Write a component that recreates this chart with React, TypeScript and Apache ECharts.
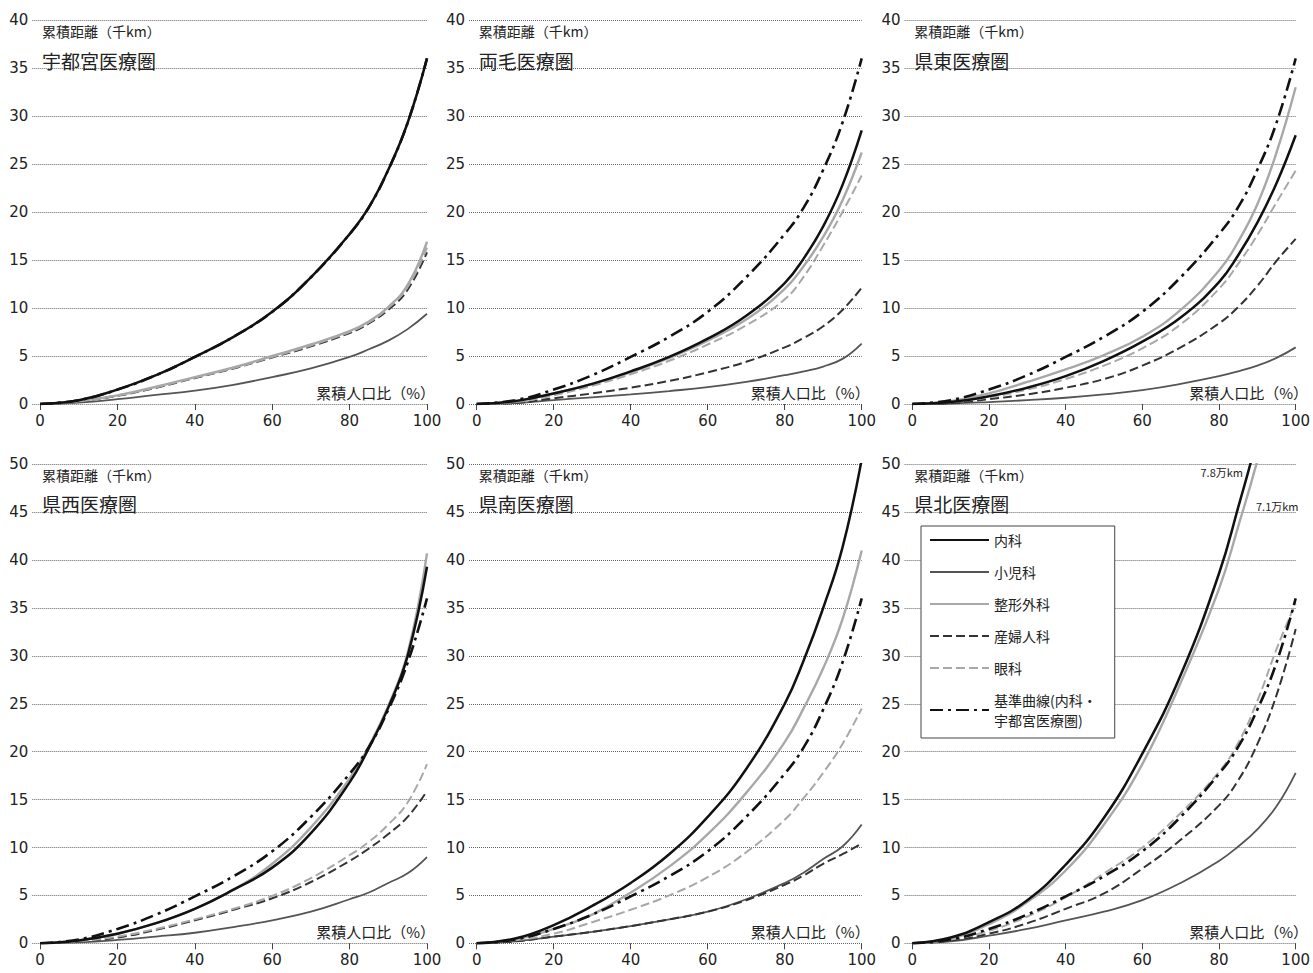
import React, { useEffect, useRef } from "react";
import * as echarts from "echarts";

// cumulative population share (%)
const POP = [0, 10, 20, 30, 40, 50, 60, 70, 80, 85, 90, 95, 100];
const X_TICKS = [0, 20, 40, 60, 80, 100];
const Y_MAX = [40, 50];

const REGIONS = ["宇都宮医療圏", "両毛医療圏", "県東医療圏", "県西医療圏", "県南医療圏", "県北医療圏"];
const DEPTS = ["内科", "小児科", "整形外科", "産婦人科", "眼科", "基準曲線(内科・宇都宮医療圏)"];

// reference curve (内科・宇都宮医療圏), thousand km
const BASELINE = [0, 0.4, 1.5, 3.0, 4.9, 7.0, 9.6, 13.2, 17.7, 20.5, 24.4, 29.3, 36];

// 宇都宮医療圏
const U_NAIKA = [0, 0.4, 1.5, 3.0, 4.9, 7.0, 9.6, 13.2, 17.7, 20.5, 24.4, 29.3, 36];
const U_SHONI = [0, 0.15, 0.5, 0.95, 1.4, 2.0, 2.8, 3.7, 4.9, 5.7, 6.6, 7.8, 9.4];
const U_SEIKEI = [0, 0.3, 0.9, 1.8, 2.8, 3.8, 5.0, 6.2, 7.6, 8.6, 10.1, 12.4, 16.9];
const U_SANFU = [0, 0.3, 0.85, 1.7, 2.7, 3.7, 4.85, 6.0, 7.4, 8.4, 9.8, 11.9, 15.8];
const U_GANKA = [0, 0.3, 0.9, 1.75, 2.75, 3.75, 4.9, 6.1, 7.5, 8.5, 10.0, 12.2, 16.3];

// 両毛医療圏
const R_NAIKA = [0, 0.3, 1.1, 2.1, 3.4, 4.9, 6.8, 9.2, 12.6, 15.2, 18.5, 22.8, 28.5];
const R_SHONI = [0, 0.1, 0.4, 0.7, 1.0, 1.35, 1.75, 2.3, 3.0, 3.4, 3.9, 4.7, 6.3];
const R_SEIKEI = [0, 0.3, 1.1, 2.1, 3.3, 4.8, 6.6, 8.8, 12.0, 14.4, 17.4, 21.2, 26.2];
const R_SANFU = [0, 0.1, 0.6, 1.1, 1.7, 2.4, 3.3, 4.4, 5.9, 6.9, 8.1, 9.8, 12.1];
const R_GANKA = [0, 0.2, 0.9, 1.9, 3.1, 4.5, 6.2, 8.2, 10.9, 13.3, 16.5, 20.0, 23.8];

// 県東医療圏
const E_NAIKA = [0, 0.2, 0.8, 1.7, 2.9, 4.5, 6.5, 9.0, 12.7, 15.5, 18.9, 23.0, 28];
const E_SHONI = [0, 0.05, 0.2, 0.4, 0.65, 1.0, 1.45, 2.1, 2.9, 3.4, 4.0, 4.8, 5.9];
const E_SEIKEI = [0, 0.3, 1.1, 2.3, 3.6, 5.1, 7.0, 9.8, 13.9, 16.9, 20.8, 26.2, 33];
const E_SANFU = [0, 0.1, 0.5, 1.0, 1.7, 2.6, 4.0, 5.9, 8.4, 10.1, 12.3, 14.9, 17.2];
const E_GANKA = [0, 0.2, 0.7, 1.5, 2.6, 4.0, 5.8, 8.3, 12.0, 14.6, 17.6, 21.0, 24.3];

// 県西医療圏
const W_NAIKA = [0, 0.3, 1.0, 2.1, 3.6, 5.6, 7.9, 11.5, 16.8, 20.4, 24.6, 30.0, 39.3];
const W_SHONI = [0, 0.1, 0.35, 0.7, 1.1, 1.7, 2.4, 3.3, 4.6, 5.3, 6.3, 7.3, 9.0];
const W_SEIKEI = [0, 0.3, 1.0, 2.1, 3.6, 5.6, 8.3, 12.1, 17.2, 20.6, 24.8, 30.3, 40.7];
const W_SANFU = [0, 0.2, 0.6, 1.4, 2.4, 3.5, 4.7, 6.4, 8.6, 9.9, 11.4, 13.2, 15.9];
const W_GANKA = [0, 0.2, 0.7, 1.5, 2.5, 3.6, 4.95, 6.8, 9.2, 10.6, 12.4, 14.7, 18.7];

// 県南医療圏
const S_NAIKA = [0, 0.5, 1.9, 3.9, 6.3, 9.3, 13.2, 18.2, 25.0, 29.6, 35.0, 41.3, 50.5];
const S_SHONI = [0, 0.2, 0.7, 1.2, 1.8, 2.5, 3.3, 4.6, 6.3, 7.4, 8.8, 10.1, 12.4];
const S_SEIKEI = [0, 0.4, 1.5, 3.0, 5.3, 8.0, 11.4, 15.7, 21.0, 24.6, 28.7, 33.8, 41];
const S_SANFU = [0, 0.2, 0.7, 1.2, 1.8, 2.5, 3.3, 4.5, 6.1, 7.1, 8.3, 9.3, 10.4];
const S_GANKA = [0, 0.3, 1.0, 2.2, 3.5, 5.0, 6.9, 9.5, 12.9, 15.2, 17.8, 20.8, 24.5];

// 県北医療圏
const N_NAIKA = [0, 0.6, 2.2, 4.5, 8.2, 13.1, 19.8, 28.0, 38.6, 45.5, 53, 63, 78];
const N_SHONI = [0, 0.2, 0.8, 1.5, 2.4, 3.3, 4.5, 6.3, 8.6, 10.1, 11.9, 14.3, 17.8];
const N_SEIKEI = [0, 0.5, 2.0, 4.3, 7.6, 12.4, 18.7, 27.2, 37.0, 43.5, 50.4, 58.5, 71];
const N_SANFU = [0, 0.3, 1.0, 2.1, 3.6, 5.2, 7.8, 10.8, 14.4, 17.0, 20.8, 25.9, 32.8];
const N_GANKA = [0, 0.4, 1.3, 2.8, 4.8, 7.3, 10.0, 13.6, 17.9, 20.9, 25.3, 30.7, 35.5];

// per region: [内科, 小児科, 整形外科, 産婦人科, 眼科]
const REGION_SERIES = [
  [U_NAIKA, U_SHONI, U_SEIKEI, U_SANFU, U_GANKA],
  [R_NAIKA, R_SHONI, R_SEIKEI, R_SANFU, R_GANKA],
  [E_NAIKA, E_SHONI, E_SEIKEI, E_SANFU, E_GANKA],
  [W_NAIKA, W_SHONI, W_SEIKEI, W_SANFU, W_GANKA],
  [S_NAIKA, S_SHONI, S_SEIKEI, S_SANFU, S_GANKA],
  [N_NAIKA, N_SHONI, N_SEIKEI, N_SANFU, N_GANKA],
];

const NUM_FONT = "DejaVu Sans, Verdana, sans-serif";
const JP_FONT = "'Noto Sans CJK JP', sans-serif";

const COLS = [
  { left: 32.3, width: 394.7 },
  { left: 469, width: 392.7 },
  { left: 904.6, width: 395.4 },
];
const ROWS = [
  { top: 20, height: 384 },
  { top: 464.3, height: 479 },
];

const STYLES = [
  { color: "#111111", width: 2.5, type: "solid" as any, z: 6 }, // 内科
  { color: "#555555", width: 1.8, type: "solid" as any, z: 3 }, // 小児科
  { color: "#a8a8a8", width: 2.4, type: "solid" as any, z: 5 }, // 整形外科
  { color: "#333333", width: 2.0, type: [9, 4] as any, z: 4 }, // 産婦人科
  { color: "#a8a8a8", width: 2.0, type: [9, 4] as any, z: 4 }, // 眼科
  { color: "#111111", width: 2.6, type: [13, 5, 3, 5] as any, z: 7 }, // 基準曲線
];

export default function App() {
  const ref = useRef<HTMLDivElement>(null);

  useEffect(() => {
    if (!ref.current) return;
    const chart = echarts.init(ref.current, undefined, { renderer: "svg" });

    const grids: any[] = [];
    const xAxes: any[] = [];
    const yAxes: any[] = [];
    const series: any[] = [];
    const graphics: any[] = [];

    const textStyle = (text: string, size: number, align: string) => ({
      text,
      fontSize: size,
      fontFamily: JP_FONT,
      fill: "#222",
      align,
      verticalAlign: "middle",
      textAlign: align,
      textVerticalAlign: "middle",
    });

    for (let p = 0; p < 6; p++) {
      const col = COLS[p % 3];
      const rowIdx = Math.floor(p / 3);
      const row = ROWS[rowIdx];
      const ymax = Y_MAX[rowIdx];
      grids.push({ left: col.left, top: row.top, width: col.width, height: row.height, containLabel: false });
      xAxes.push({
        type: "value",
        gridIndex: p,
        min: -2,
        max: 100,
        axisLine: { show: false },
        splitLine: { show: false },
        axisTick: { show: true, customValues: X_TICKS, length: 6, lineStyle: { color: "#444", width: 1 } },
        axisLabel: {
          customValues: X_TICKS,
          fontSize: 15,
          color: "#222",
          fontFamily: NUM_FONT,
          margin: 9,
        },
      });
      yAxes.push({
        type: "value",
        gridIndex: p,
        min: 0,
        max: ymax,
        interval: 5,
        axisLine: { show: false },
        axisTick: { show: false },
        axisLabel: { fontSize: 15, color: "#222", fontFamily: NUM_FONT, margin: 4, padding: [0, 0, 6, 0] },
        splitLine: { show: true, lineStyle: { color: "#666", width: 1, type: [1, 1] } },
      });

      const arrs = [...REGION_SERIES[p], BASELINE];
      const order = [1, 3, 4, 2, 0, 5];
      order.forEach((d) => {
        const st = STYLES[d];
        series.push({
          name: DEPTS[d],
          type: "line",
          xAxisIndex: p,
          yAxisIndex: p,
          data: POP.map((x, k) => [x, arrs[d][k]]),
          symbol: "none",
          smooth: 0.45,
          clip: true,
          z: st.z,
          lineStyle: { color: st.color, width: st.width, type: st.type },
          itemStyle: { color: st.color },
          emphasis: { disabled: true },
        });
      });

      const x0 = col.left + (2 * col.width) / 102;
      const x100 = col.left + col.width;
      const bottom = row.top + row.height;
      graphics.push({
        type: "text",
        x: x0 + 2,
        y: rowIdx === 0 ? 31 : 475,
        z: 10,
        style: textStyle("累積距離（千km）", 14, "left"),
      });
      graphics.push({
        type: "text",
        x: x0 + 2,
        y: rowIdx === 0 ? 60 : 503,
        z: 10,
        style: textStyle(REGIONS[p], 19, "left"),
      });
      graphics.push({
        type: "text",
        x: x100 + 8,
        y: bottom - 12,
        z: 10,
        style: textStyle("累積人口比（%）", 15, "right"),
      });
    }

    graphics.push({ type: "text", x: 1243, y: 472, z: 10, style: textStyle("7.8万km", 11, "right") });
    graphics.push({ type: "text", x: 1256, y: 506, z: 10, style: textStyle("7.1万km", 11, "left") });

    chart.setOption({
      animation: false,
      backgroundColor: "#ffffff",
      grid: grids,
      xAxis: xAxes,
      yAxis: yAxes,
      series,
      graphic: graphics,
      legend: {
        show: true,
        orient: "vertical",
        left: 921,
        top: 526,
        data: DEPTS,
        itemWidth: 59,
        itemHeight: 12,
        itemGap: 12,
        padding: [4, 18, 8, 8],
        backgroundColor: "#ffffff",
        borderColor: "#444",
        borderWidth: 1,
        borderRadius: 0,
        selectedMode: false,
        itemStyle: { opacity: 0, color: "rgba(0,0,0,0)", borderWidth: 0 },
        formatter: (name: string) => (name.startsWith("基準") ? "基準曲線(内科・\n宇都宮医療圏)" : name),
        textStyle: { fontSize: 14, color: "#222", fontFamily: JP_FONT, lineHeight: 20 },
      },
    });

    return () => {
      chart.dispose();
    };
  }, []);

  return (
    <div
      ref={ref}
      style={{ position: "absolute", left: 0, top: 0, width: 1313, height: 973, background: "#fff" }}
    />
  );
}
